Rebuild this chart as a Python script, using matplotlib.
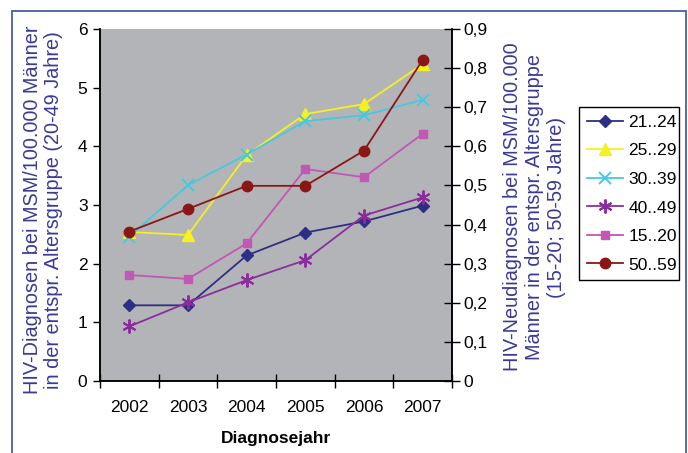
import matplotlib
matplotlib.use("Agg")
import matplotlib.pyplot as plt
from matplotlib.patches import Rectangle
from matplotlib.ticker import FixedLocator, NullFormatter, FixedFormatter

# Diagnosis years
years = ["2002", "2003", "2004", "2005", "2006", "2007"]

# Rates per 100,000 MSM, left axis (age groups 20-49)
y_21_24 = [1.29, 1.29, 2.14, 2.53, 2.72, 2.99]
y_25_29 = [2.54, 2.49, 3.85, 4.55, 4.72, 5.40]
y_30_39 = [2.46, 3.34, 3.86, 4.43, 4.53, 4.79]
y_40_49 = [0.93, 1.34, 1.72, 2.06, 2.82, 3.13]

# Rates per 100,000 MSM, right axis (15-20; 50-59)
y_15_20 = [0.271, 0.261, 0.352, 0.542, 0.521, 0.632]
y_50_59 = [0.382, 0.440, 0.499, 0.499, 0.589, 0.821]

left_ticks = [0, 1, 2, 3, 4, 5, 6]
right_ticks = [0, 0.1, 0.2, 0.3, 0.4, 0.5, 0.6, 0.7, 0.8, 0.9]
right_ticklabels = ["0", "0,1", "0,2", "0,3", "0,4", "0,5", "0,6", "0,7", "0,8", "0,9"]

FONT = ["Liberation Sans", "DejaVu Sans"]
plt.rcParams["font.family"] = FONT

W, H = 688, 453
fig = plt.figure(figsize=(W / 100, H / 100), dpi=100)
fig.patch.set_facecolor("white")

# outer chart frame
fig.patches.append(Rectangle((12 / W, -0.05), (686 - 12) / W, 1.05 - 11 / H,
                             transform=fig.transFigure, fill=False,
                             edgecolor="#4d5c9e", linewidth=1.3, clip_on=False))

ax = fig.add_axes([100 / W, (H - 381) / H, 352 / W, 352 / H])
ax.set_facecolor("#b3b4b8")
ax2 = ax.twinx()

x = list(range(len(years)))
lw = 1.3

h1, = ax.plot(x, y_21_24, color="#2e2e85", marker="D", markersize=6, lw=lw, label="21..24")
h2, = ax.plot(x, y_25_29, color="#f5f020", marker="^", markersize=8, lw=lw, label="25..29")
h3, = ax.plot(x, y_30_39, color="#48c8e0", marker="x", markersize=8, mew=1.4, lw=lw, label="30..39")
h4, = ax.plot(x, y_40_49, color="#8c2c9c", marker=(6, 2, 0), markersize=10, mew=1.4, lw=lw, label="40..49")
h5, = ax2.plot(x, y_15_20, color="#c257b4", marker="s", markersize=6, lw=lw, label="15..20")
h6, = ax2.plot(x, y_50_59, color="#8b1616", marker="o", markersize=7.5, lw=lw, label="50..59")

ax.set_xlim(-0.5, len(years) - 0.5)
ax.set_ylim(0, 6)
ax2.set_ylim(0, 0.9)

ax.set_yticks(left_ticks)
ax.set_yticklabels([str(t) for t in left_ticks])
ax2.set_yticks(right_ticks)
ax2.set_yticklabels(right_ticklabels)

# category boundaries carry tick marks, labels sit at category centres
ax.xaxis.set_major_locator(FixedLocator([i - 0.5 for i in range(len(years) + 1)]))
ax.xaxis.set_major_formatter(NullFormatter())
ax.xaxis.set_minor_locator(FixedLocator(x))
ax.xaxis.set_minor_formatter(FixedFormatter(years))
ax.tick_params(axis="x", which="major", direction="inout", length=10, width=1, color="black")
ax.tick_params(axis="x", which="minor", length=0, pad=14, labelsize=12.5)
ax.tick_params(axis="y", direction="out", length=5, width=1, labelsize=12.5, pad=4)
ax2.tick_params(axis="y", direction="inout", length=11, width=1, labelsize=12.5, pad=3)

for a in (ax, ax2):
    a.spines["top"].set_visible(False)
    for s in ("left", "right", "bottom"):
        a.spines[s].set_color("black")
        a.spines[s].set_linewidth(1.1)

fig.text(276 / W, (H - 438) / H, "Diagnosejahr",
         ha="center", va="center", fontsize=12.5, fontweight="bold")

fig.text(43 / W, 1 - 210 / H,
         "HIV-Diagnosen bei MSM/100.000 Männer\nin der entspr. Altersgruppe (20-49 Jahre)",
         rotation=90, ha="center", va="center", multialignment="center",
         fontsize=14.3, color="#3a3a96", linespacing=1.15)
fig.text(535 / W, 1 - 207 / H,
         "HIV-Neudiagnosen bei MSM/100.000\nMänner in der entspr. Altersgruppe\n(15-20; 50-59 Jahre)",
         rotation=90, ha="center", va="center", multialignment="center",
         fontsize=14.3, color="#3a3a96", linespacing=1.2)

leg = fig.legend(handles=[h1, h2, h3, h4, h5, h6],
                 loc="upper left", bbox_to_anchor=(579 / W, 1 - 275 / H, 100 / W, 168 / H),
                 mode="expand", frameon=True, fancybox=False, framealpha=1,
                 edgecolor="black", fontsize=12.5, handlelength=2.1,
                 handletextpad=0.3, labelspacing=0.77, borderpad=0.45, borderaxespad=0)
leg.get_frame().set_linewidth(1.0)

fig.savefig("out.png", dpi=100)
